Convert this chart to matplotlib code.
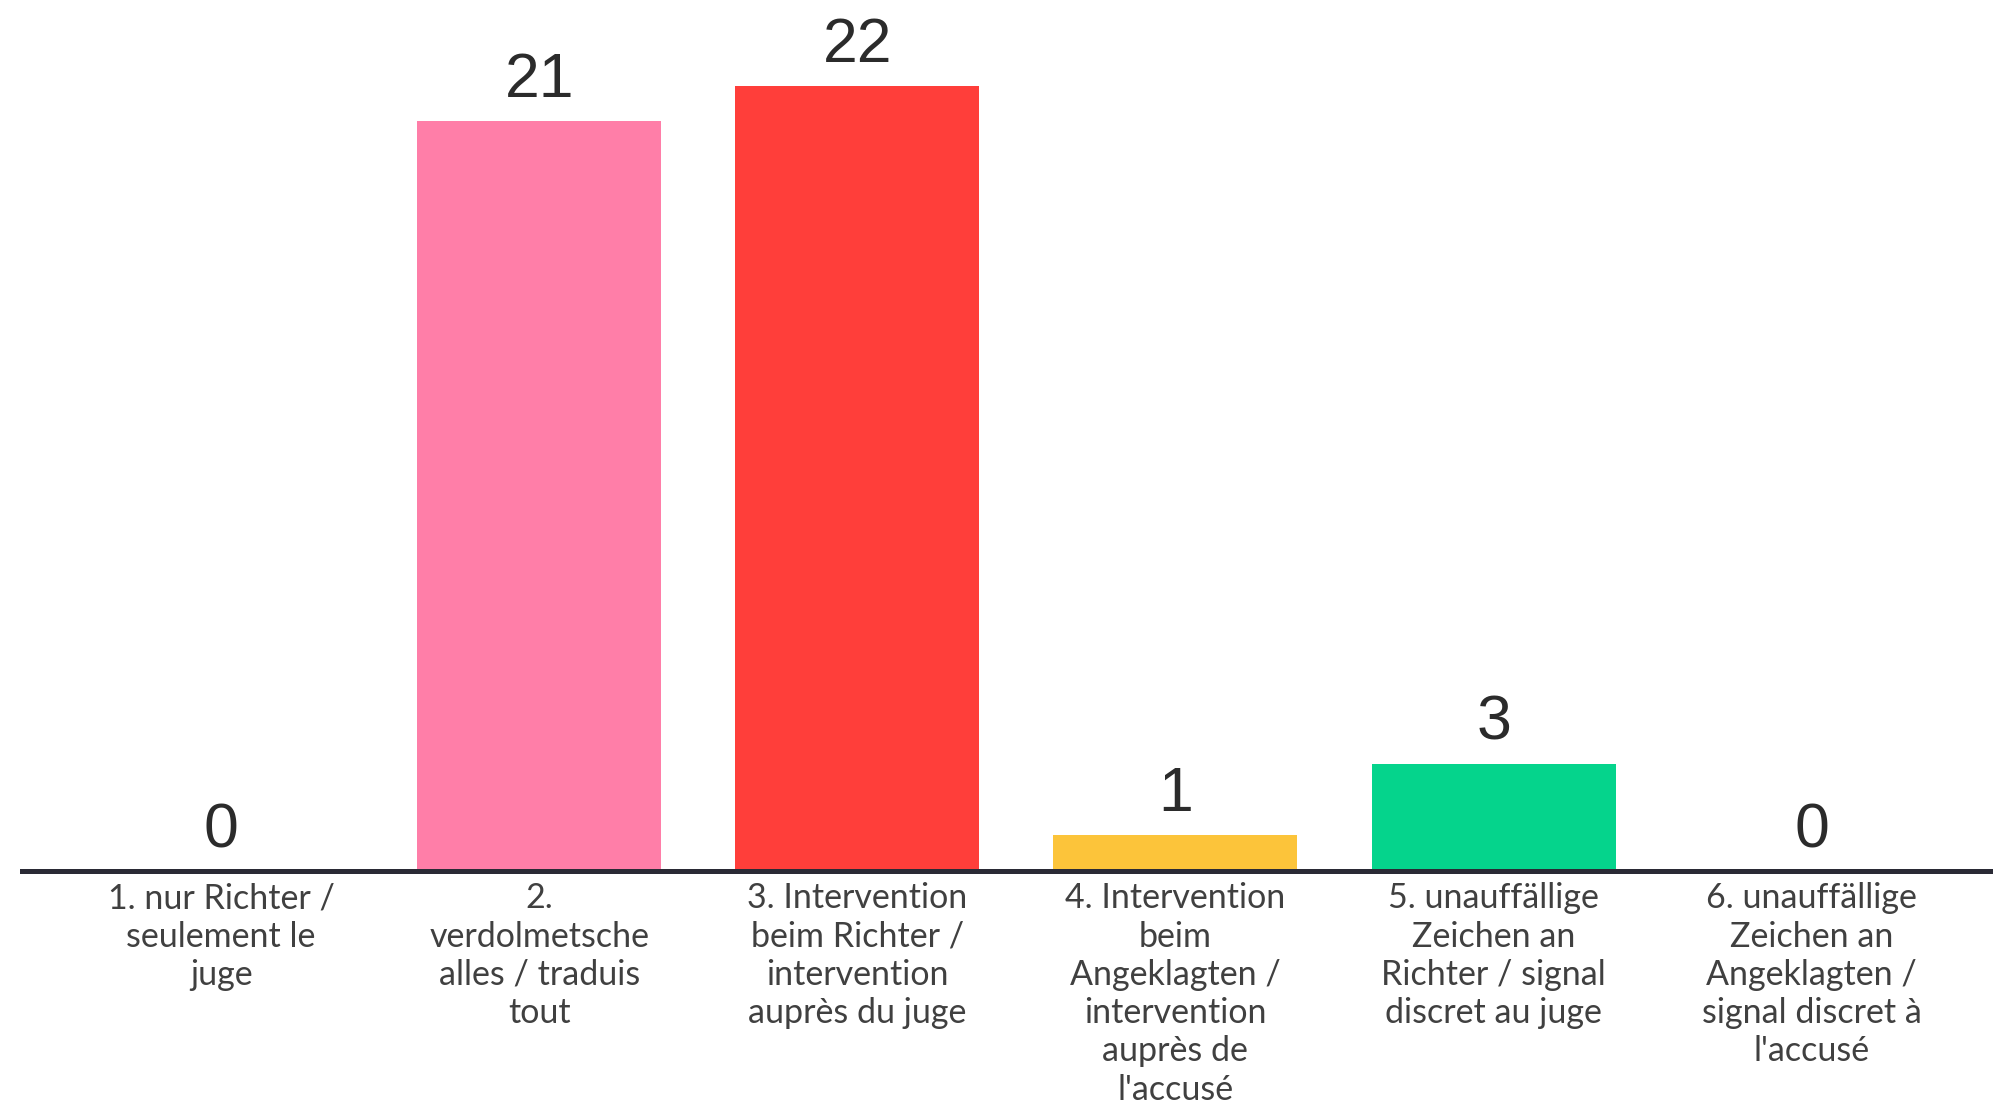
import matplotlib
matplotlib.use("Agg")
import matplotlib.pyplot as plt

# answer options (German / French) and vote counts
categories = [
    "1. nur Richter /\nseulement le\njuge",
    "2.\nverdolmetsche\nalles / traduis\ntout",
    "3. Intervention\nbeim Richter /\nintervention\nauprès du juge",
    "4. Intervention\nbeim\nAngeklagten /\nintervention\nauprès de\nl'accusé",
    "5. unauffällige\nZeichen an\nRichter / signal\ndiscret au juge",
    "6. unauffällige\nZeichen an\nAngeklagten /\nsignal discret à\nl'accusé",
]
votes = [0, 21, 22, 1, 3, 0]
bar_colors = ["#6c8ff0", "#ff7ea8", "#ff3e3a", "#fcc43a", "#05d48c", "#9b7bf0"]

plt.rcParams['font.family'] = ['Lato', 'DejaVu Sans']

fig = plt.figure(figsize=(19.93, 11), dpi=100)
ax = fig.add_axes([0.011, 0.208, 0.989, 0.792])

x = list(range(len(categories)))
bars = ax.bar(x, votes, width=0.767, color=bar_colors)
ax.bar_label(bars, labels=[str(v) for v in votes], padding=8,
             fontsize=45, color="#2b2b2b", family=['Liberation Sans', 'DejaVu Sans'])

ax.set_xlim(-0.626, 5.57)
ax.set_ylim(0, 24.4)
ax.set_xticks(x)
ax.set_xticklabels(categories, fontsize=24.5, color="#404040", linespacing=1.24)
ax.tick_params(axis='x', length=0, pad=8)
ax.set_yticks([])

for side in ['top', 'right', 'left']:
    ax.spines[side].set_visible(False)
ax.spines['bottom'].set_linewidth(3.6)
ax.spines['bottom'].set_color("#2a2a35")

fig.savefig("out.png", dpi=100)
